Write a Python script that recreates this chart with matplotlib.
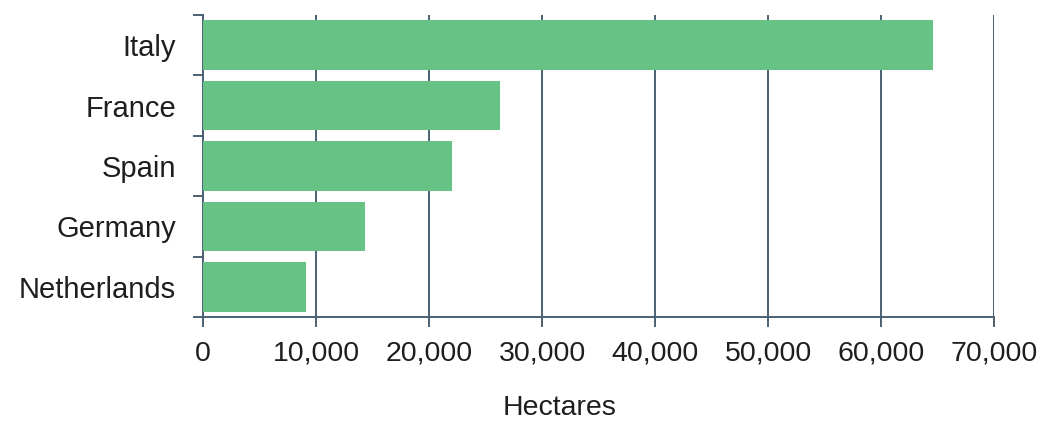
import matplotlib
matplotlib.use("Agg")
import matplotlib.pyplot as plt
from matplotlib.ticker import FuncFormatter, FixedLocator

countries = ["Italy", "France", "Spain", "Germany", "Netherlands"]
hectares = [64600, 26300, 22000, 14300, 9100]
x_ticks = [0, 10000, 20000, 30000, 40000, 50000, 60000, 70000]

plt.rcParams['font.family'] = ['Liberation Sans', 'DejaVu Sans']

bar_color = '#66c285'
line_color = '#4b6172'
text_color = '#1e1e1e'

fig = plt.figure(figsize=(10.41, 4.23), dpi=100)
ax = fig.add_axes([0.195, 0.2506, 0.76, 0.714])

pos = list(range(len(countries)))
ax.barh(pos, hectares, height=0.82, color=bar_color, zorder=3)
ax.set_ylim(len(countries) - 0.5, -0.5)
ax.set_xlim(0, 70000)

ax.set_xticks(x_ticks)
ax.xaxis.set_major_formatter(FuncFormatter(lambda v, p: f"{int(v):,}"))
ax.grid(axis='x', color=line_color, linewidth=1.4, zorder=1)

ax.set_yticks(pos)
ax.set_yticklabels(countries)
ax.yaxis.set_minor_locator(FixedLocator([p - 0.5 for p in pos] + [len(countries) - 0.5]))
ax.tick_params(axis='y', which='major', length=0, pad=19.5, labelsize=21, labelcolor=text_color)
ax.tick_params(axis='y', which='minor', length=7, width=1.4, color=line_color)
ax.tick_params(axis='x', length=7, width=1.4, color=line_color, labelsize=20.5, labelcolor=text_color, pad=10)

for s in ['top', 'right']:
    ax.spines[s].set_visible(False)
for s in ['left', 'bottom']:
    ax.spines[s].set_color(line_color)
    ax.spines[s].set_linewidth(1.4)

# the title of the value axis sits a bit left of the axes centre
ax.set_xlabel("Hectares", fontsize=20.5, color=text_color, va='center')
ax.xaxis.set_label_coords(0.451, -0.301)

fig.savefig("out.png", dpi=100)
